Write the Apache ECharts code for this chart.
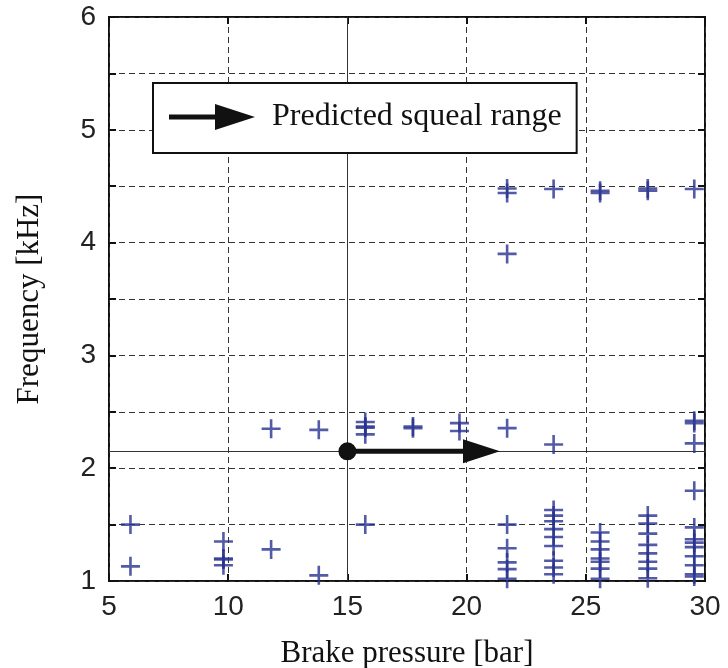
<!DOCTYPE html>
<html>
<head>
<meta charset="utf-8">
<script src="https://cdn.jsdelivr.net/npm/echarts@6/dist/echarts.min.js"></script>
<style>
	html, body {margin: 0; padding: 0; background: #fff;}
	#chart {width: 728px; height: 668px;}
</style>
</head>
<body>
<div id="chart"></div>
<script>
// brake pressure columns [bar] and the squeal frequencies found at each [kHz]
var pressures = [5.9, 9.8, 11.8, 13.8, 15.75, 17.75, 19.7, 21.7, 23.65, 25.6, 27.6, 29.55];
var freqs = [
	[1.50, 1.13],
	[1.35, 1.20, 1.19, 1.14],
	[2.35, 1.28],
	[2.34, 1.05],
	[2.41, 2.37, 2.36, 2.30, 1.50],
	[2.37, 2.355],
	[2.40, 2.33],
	[4.48, 4.44, 3.90, 2.355, 1.50, 1.29, 1.165, 1.105, 1.02],
	[4.475, 2.21, 1.63, 1.58, 1.53, 1.46, 1.39, 1.31, 1.18, 1.12, 1.06],
	[4.46, 4.44, 1.43, 1.35, 1.28, 1.20, 1.17, 1.11, 1.02],
	[4.48, 4.46, 1.58, 1.51, 1.42, 1.32, 1.245, 1.17, 1.11, 1.025],
	[4.475, 2.42, 2.40, 2.22, 1.80, 1.475, 1.37, 1.34, 1.30, 1.22, 1.14, 1.06, 1.04]
];
// predicted squeal range: start point (dot) and arrow tip
var rangeStart = [15, 2.15];
var rangeEnd = [21.4, 2.15];
var xTicks = [5, 10, 15, 20, 25, 30];
var yTicks = [1, 2, 3, 4, 5, 6];

var points = [];
pressures.forEach(function(p, i){
	freqs[i].forEach(function(f){
		points.push([p, f]);
	});
});

var sans = "'Liberation Sans', Arial, Helvetica, sans-serif";
var serif = "'Liberation Serif', 'Times New Roman', serif";
var plusPath = 'path://M8.2,0h2.6v8.2h8.2v2.6h-8.2v8.2h-2.6v-8.2h-8.2v-2.6h8.2z';
var arrowIcon = 'path://M0,10.5H46V0L86,13L46,26V15.5H0Z';

function axisCommon(show){
	return {
		axisLine: {show: false},
		axisTick: {show: true, inside: true, length: 7, lineStyle: {color: '#111', width: 2}},
		axisLabel: {show: show, fontSize: 28, fontFamily: sans, color: '#222'}
	};
}

var myChart = echarts.init(document.getElementById('chart'));

var xBottom = axisCommon(true);
xBottom.type = 'value';
xBottom.position = 'bottom';
xBottom.min = xTicks[0];
xBottom.max = xTicks[xTicks.length - 1];
xBottom.interval = 5;
xBottom.axisLabel.margin = 12;
xBottom.splitLine = {show: true, lineStyle: {color: '#333', width: 1, type: [6, 4]}};
xBottom.name = 'Brake pressure [bar]';
xBottom.nameLocation = 'middle';
xBottom.nameGap = 57;
xBottom.nameTextStyle = {fontSize: 31, fontFamily: serif, color: '#111'};

var xTop = axisCommon(false);
xTop.type = 'value';
xTop.position = 'top';
xTop.min = xTicks[0];
xTop.max = xTicks[xTicks.length - 1];
xTop.interval = 5;
xTop.splitLine = {show: false};

var yLeft = axisCommon(true);
yLeft.type = 'value';
yLeft.position = 'left';
yLeft.min = yTicks[0];
yLeft.max = yTicks[yTicks.length - 1];
yLeft.interval = 0.5;
yLeft.axisLabel.margin = 13;
yLeft.axisLabel.formatter = function(v){
	return yTicks.indexOf(v) >= 0 ? String(v) : '';
};
yLeft.splitLine = {show: true, lineStyle: {color: '#333', width: 1, type: [6, 4]}};
yLeft.name = 'Frequency [kHz]';
yLeft.nameLocation = 'middle';
yLeft.nameGap = 64;
yLeft.nameTextStyle = {fontSize: 31, fontFamily: serif, color: '#111'};

var yRight = axisCommon(false);
yRight.type = 'value';
yRight.position = 'right';
yRight.min = yTicks[0];
yRight.max = yTicks[yTicks.length - 1];
yRight.interval = 0.5;
yRight.splitLine = {show: false};

var option = {
	backgroundColor: '#fff',
	animation: false,
	grid: {
		left: 109, right: 23, top: 17, bottom: 87,
		show: true, borderColor: '#111', borderWidth: 2,
		outerBoundsMode: 'none'
	},
	xAxis: [xBottom, xTop],
	yAxis: [yLeft, yRight],
	legend: {
		left: 153,
		top: 83,
		padding: [18, 15, 20, 16],
		borderColor: '#111',
		borderWidth: 2,
		backgroundColor: '#fff',
		itemWidth: 86,
		itemHeight: 26,
		selectedMode: false,
		textStyle: {fontSize: 32, fontFamily: serif, color: '#111', padding: [0, 0, 0, 12]},
		data: [{name: 'Predicted squeal range', icon: arrowIcon, itemStyle: {color: '#111'}}]
	},
	series: [
		{
			type: 'scatter',
			name: 'squeal',
			xAxisIndex: 0,
			yAxisIndex: 0,
			symbol: plusPath,
			symbolSize: 19,
			itemStyle: {color: '#283190'},
			data: points,
			z: 3,
			markLine: {
				silent: true,
				symbol: 'none',
				label: {show: false},
				lineStyle: {color: '#333', width: 1, type: 'solid'},
				data: [{xAxis: rangeStart[0]}, {yAxis: rangeStart[1]}],
				z: 1
			}
		},
		{
			type: 'custom',
			name: 'Predicted squeal range',
			xAxisIndex: 0,
			yAxisIndex: 0,
			itemStyle: {color: '#111'},
			encode: {x: [0, 2], y: [1, 3]},
			data: [[rangeStart[0], rangeStart[1], rangeEnd[0], rangeEnd[1]]],
			z: 4,
			renderItem: function(params, api){
				var p0 = api.coord([api.value(0), api.value(1)]);
				var p1 = api.coord([api.value(2), api.value(3)]);
				var headLen = 37, headHalf = 12;
				return {
					type: 'group',
					children: [
						{type: 'line', shape: {x1: p0[0], y1: p0[1], x2: p1[0] - headLen + 2, y2: p1[1]},
							style: {stroke: '#111', lineWidth: 5}},
						{type: 'polygon', shape: {points: [[p1[0] - headLen, p1[1] - headHalf], [p1[0], p1[1]], [p1[0] - headLen, p1[1] + headHalf]]},
							style: {fill: '#111'}},
						{type: 'circle', shape: {cx: p0[0], cy: p0[1], r: 9}, style: {fill: '#111'}}
					]
				};
			}
		}
	]
};

myChart.setOption(option);
</script>
</body>
</html>
